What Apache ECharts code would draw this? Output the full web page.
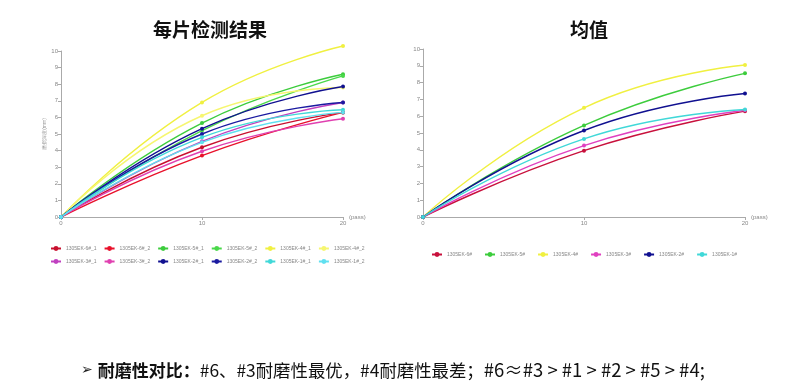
<!DOCTYPE html>
<html><head><meta charset="utf-8">
<script src="https://cdn.jsdelivr.net/npm/echarts@6/dist/echarts.min.js"></script>
<style>html,body{margin:0;padding:0;background:#fff}#c{width:800px;height:388px}</style>
</head><body><div id="c"></div>
<script>
const xVals = [0, 10, 20];
// left chart: each piece
const leftNames = ['1305EK-6#_1','1305EK-6#_2','1305EK-5#_1','1305EK-5#_2','1305EK-4#_1','1305EK-4#_2','1305EK-3#_1','1305EK-3#_2','1305EK-2#_1','1305EK-2#_2','1305EK-1#_1','1305EK-1#_2'];
const s6_1 = [0, 4.2, 6.3];
const s6_2 = [0, 3.7, 6.3];
const s5_1 = [0, 5.66, 8.6];
const s5_2 = [0, 5.2, 8.5];
const s4_1 = [0, 6.9, 10.3];
const s4_2 = [0, 6.1, 7.8];
const s3_1 = [0, 4.56, 6.9];
const s3_2 = [0, 3.96, 5.92];
const s2_1 = [0, 5.32, 7.86];
const s2_2 = [0, 5.0, 6.9];
const s1_1 = [0, 4.8, 6.46];
const s1_2 = [0, 4.5, 6.3];
const leftData = [s6_1,s6_2,s5_1,s5_2,s4_1,s4_2,s3_1,s3_2,s2_1,s2_2,s1_1,s1_2];
const leftColors = ['#c8102e','#e8102a','#3ccc3c','#4ad84a','#f0f040','#f6f670','#c040c0','#e040b0','#101090','#1a1aa0','#40d8d8','#60e0f0'];
// right chart: mean
const rightNames = ['1305EK-6#','1305EK-5#','1305EK-4#','1305EK-3#','1305EK-2#','1305EK-1#'];
const m6 = [0, 3.95, 6.3];
const m5 = [0, 5.45, 8.55];
const m4 = [0, 6.5, 9.05];
const m3 = [0, 4.25, 6.35];
const m2 = [0, 5.15, 7.35];
const m1 = [0, 4.65, 6.4];
const rightData = [m6,m5,m4,m3,m2,m1];
const rightColors = ['#c8103c','#3ccc3c','#f0f040','#e040c0','#101090','#40d8d8'];

const pairs = arr => arr.map((v,i)=>[xVals[i], v]);
const axisLbl = {fontSize:6, color:'#888', margin:3};
const axLine = {lineStyle:{color:'#aaa', width:1}};
function xAxis(gi){return {type:'value', gridIndex:gi, min:0, max:20, interval:10, name:'(pass)', nameGap:6,
  nameTextStyle:{fontSize:6,color:'#888'}, axisLine:axLine, axisTick:{show:true,length:3,lineStyle:{color:'#aaa'}}, axisLabel:axisLbl, splitLine:{show:false}};}
function yAxis(gi,name){return {type:'value', gridIndex:gi, min:0, max:10, interval:1, name:name, nameLocation:'middle', nameGap:14,
  nameTextStyle:{fontSize:5,color:'#999'}, axisLine:{show:true,lineStyle:{color:'#aaa'}}, axisTick:{show:true,length:3,lineStyle:{color:'#aaa'}}, axisLabel:axisLbl,
  splitLine:{show:false}};}
const series = [];
leftData.forEach((d,i)=>series.push({name:leftNames[i], type:'line', xAxisIndex:0, yAxisIndex:0, smooth:true, clip:false,
  data:pairs(d), symbol:'circle', symbolSize:4, color:leftColors[i], lineStyle:{width:1.4}}));
rightData.forEach((d,i)=>series.push({name:rightNames[i], type:'line', xAxisIndex:1, yAxisIndex:1, smooth:true, clip:false,
  data:pairs(d), symbol:'circle', symbolSize:4, color:rightColors[i], lineStyle:{width:1.4}}));
const legStyle = {fontSize:5, color:'#888'};
const option = {
  animation:false,
  title:[
    {text:'每片检测结果', left:205, top:15, textAlign:'center', textStyle:{fontSize:19, fontWeight:'bold', color:'#111', fontFamily:'Noto Sans CJK SC'}},
    {text:'均值', left:584, top:15, textAlign:'center', textStyle:{fontSize:19, fontWeight:'bold', color:'#111', fontFamily:'Noto Sans CJK SC'}},
    {text:'{a|➢} {b|耐磨性对比：}{c|#6、#3耐磨性最优，#4耐磨性最差；}{d|#6≈#3 > #1 > #2 > #5 > #4;}', left:76, top:356,
      textStyle:{fontWeight:'normal', rich:{
        a:{fontSize:14,color:'#222',fontFamily:'DejaVu Sans',fontWeight:'normal'},
        b:{fontSize:17,fontWeight:'bold',color:'#111',fontFamily:'Noto Sans CJK SC'},
        c:{fontSize:17.4,fontWeight:'normal',color:'#111',fontFamily:'Noto Sans CJK SC'},
        d:{fontSize:18.5,fontWeight:'normal',color:'#111',fontFamily:'Noto Sans CJK SC'}}}}
  ],
  grid:[
    {left:61, top:51, width:282, height:166},
    {left:423, top:49, width:322, height:168}
  ],
  xAxis:[xAxis(0), xAxis(1)],
  yAxis:[yAxis(0,'磨损深度(mm)'), yAxis(1,'')],
  legend:[
    {data:leftNames.slice(0,6), left:45, top:241, width:340, itemWidth:10, itemHeight:6, itemGap:7, textStyle:legStyle},
    {data:leftNames.slice(6), left:45, top:254, width:340, itemWidth:10, itemHeight:6, itemGap:7, textStyle:legStyle},
    {data:rightNames, left:426, top:247, width:380, itemWidth:10, itemHeight:6, itemGap:12, textStyle:legStyle}
  ],
  series:series
};
echarts.init(document.getElementById('c')).setOption(option);
</script></body></html>
